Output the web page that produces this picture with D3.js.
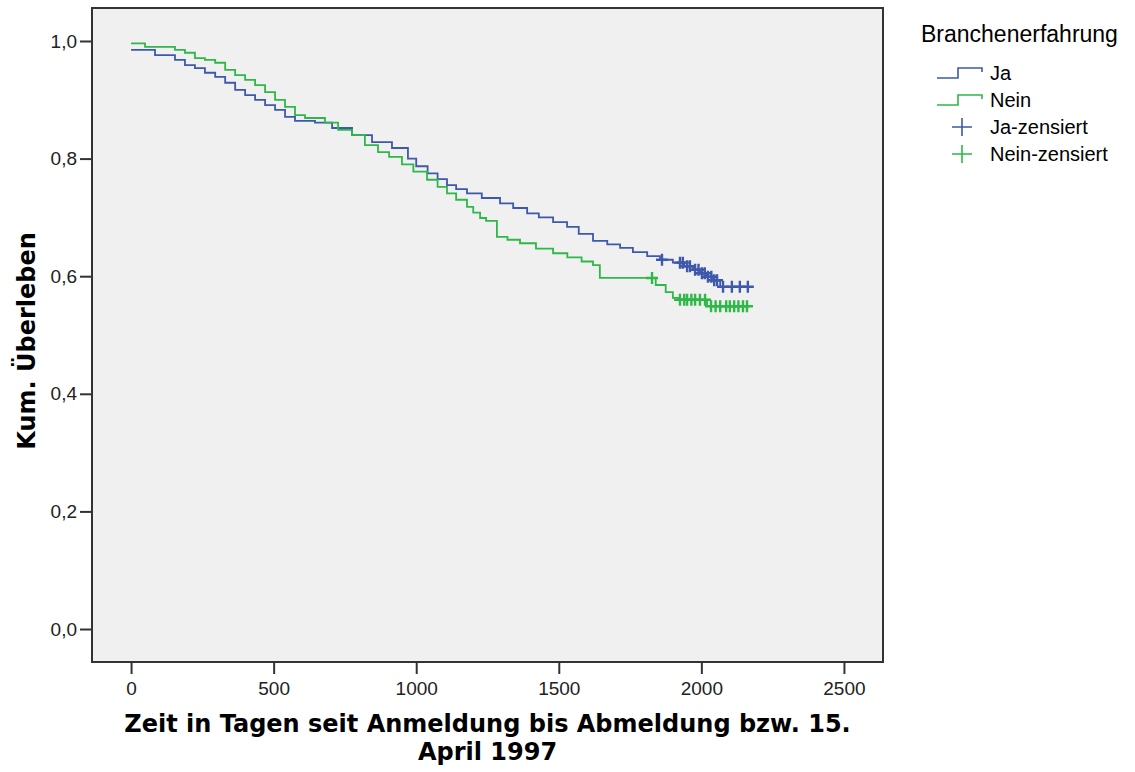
<!DOCTYPE html>
<html>
<head>
<meta charset="utf-8">
<script src="https://cdn.jsdelivr.net/npm/d3@7/dist/d3.min.js"></script>
<style>
  html, body { margin: 0; padding: 0; background: #ffffff; }
  svg { display: block; }
</style>
</head>
<body>
<svg id="chart" width="1135" height="772"></svg>
<script>
// ---------- DATA ----------
const xTicks = [0, 500, 1000, 1500, 2000, 2500];
const yTicks = [0, 0.2, 0.4, 0.6, 0.8, 1.0];

const seriesNames = ["Ja", "Nein"];
const legendTitle = "Branchenerfahrung";
const legendLabels = ["Ja", "Nein", "Ja-zensiert", "Nein-zensiert"];

// Kaplan-Meier steps [time, survival] for "Ja"
const jaSteps = [
  [0, 0.985], [84, 0.976], [154, 0.968], [189, 0.959], [224, 0.954], [259, 0.946],
  [295, 0.939], [330, 0.929], [365, 0.917], [400, 0.908], [435, 0.900], [470, 0.891],
  [505, 0.883], [540, 0.871], [575, 0.864], [645, 0.861], [705, 0.852], [775, 0.840],
  [845, 0.828], [915, 0.818], [971, 0.800], [1000, 0.787], [1040, 0.775], [1075, 0.765],
  [1108, 0.755], [1140, 0.748], [1178, 0.741], [1230, 0.733], [1294, 0.724], [1340, 0.716],
  [1389, 0.707], [1430, 0.700], [1480, 0.692], [1529, 0.684], [1570, 0.672], [1620, 0.660],
  [1670, 0.654], [1715, 0.648], [1760, 0.641], [1810, 0.634], [1855, 0.628], [1900, 0.623],
  [1940, 0.617], [1970, 0.611], [1995, 0.605], [2020, 0.599], [2041, 0.593], [2066, 0.582]
];
const jaEnd = 2165;
const jaCensored = [1862, 1925, 1935, 1950, 1960, 1978, 1990, 2002, 2012, 2023, 2035, 2045, 2055, 2076, 2107, 2135, 2163];

// Kaplan-Meier steps [time, survival] for "Nein"
const neinSteps = [
  [0, 0.996], [49, 0.990], [154, 0.985], [189, 0.980], [224, 0.971], [259, 0.968],
  [295, 0.963], [330, 0.951], [365, 0.942], [400, 0.934], [435, 0.925], [470, 0.913],
  [505, 0.900], [540, 0.888], [575, 0.874], [610, 0.869], [680, 0.861], [726, 0.849],
  [775, 0.840], [820, 0.823], [866, 0.811], [905, 0.803], [950, 0.790], [990, 0.778],
  [1038, 0.764], [1075, 0.752], [1108, 0.741], [1140, 0.730], [1178, 0.718], [1200, 0.708],
  [1224, 0.699], [1245, 0.694], [1283, 0.667], [1320, 0.662], [1364, 0.656], [1420, 0.647],
  [1480, 0.639], [1530, 0.632], [1580, 0.625], [1620, 0.619], [1644, 0.597], [1840, 0.585],
  [1875, 0.573], [1900, 0.563], [1920, 0.560], [2020, 0.549]
];
const neinEnd = 2165;
const neinCensored = [1827, 1925, 1940, 1950, 1965, 1978, 1995, 2013, 2034, 2050, 2066, 2087, 2100, 2115, 2130, 2146, 2160];

const colors = ["#3e58ac", "#2eb848"];

// ---------- LAYOUT ----------
const svg = d3.select("#chart");
const plot = { left: 92, right: 883, top: 8, bottom: 662 };

const x = d3.scaleLinear().domain([-137, 2637]).range([plot.left, plot.right]);
const y = d3.scaleLinear().domain([-0.0561, 1.0561]).range([plot.bottom, plot.top]);

// plot background
svg.append("rect")
  .attr("x", plot.left).attr("y", plot.top)
  .attr("width", plot.right - plot.left).attr("height", plot.bottom - plot.top)
  .attr("fill", "#f0f0f0");

svg.append("defs").append("clipPath").attr("id", "clip")
  .append("rect").attr("x", plot.left).attr("y", plot.top)
  .attr("width", plot.right - plot.left).attr("height", plot.bottom - plot.top);

const g = svg.append("g").attr("clip-path", "url(#clip)");

const line = d3.line().x(d => x(d[0])).y(d => y(d[1])).curve(d3.curveStepAfter);

function stepValue(steps, t) {
  let v = steps[0][1];
  for (const s of steps) { if (s[0] <= t) v = s[1]; }
  return v;
}

const allSeries = [
  { steps: jaSteps, end: jaEnd, cens: jaCensored, color: colors[0] },
  { steps: neinSteps, end: neinEnd, cens: neinCensored, color: colors[1] }
];

allSeries.forEach(s => {
  const pts = s.steps.concat([[s.end, s.steps[s.steps.length - 1][1]]]);
  g.append("path").datum(pts)
    .attr("d", line)
    .attr("fill", "none")
    .attr("stroke", s.color)
    .attr("stroke-width", 1.8);
});

const m = 6;
allSeries.forEach(s => {
  g.append("g").selectAll("path").data(s.cens).join("path")
    .attr("d", t => {
      const cx = x(t), cy = y(stepValue(s.steps, t));
      return `M${cx - m},${cy}H${cx + m}M${cx},${cy - m}V${cy + m}`;
    })
    .attr("stroke", s.color)
    .attr("stroke-width", 2.4)
    .attr("fill", "none");
});

// frame
svg.append("rect")
  .attr("x", plot.left).attr("y", plot.top)
  .attr("width", plot.right - plot.left).attr("height", plot.bottom - plot.top)
  .attr("fill", "none").attr("stroke", "#333").attr("stroke-width", 2);

// axes
const fmt = d => d3.format(".1f")(d).replace(".", ",");
const yAxis = svg.append("g").attr("transform", `translate(${plot.left},0)`)
  .call(d3.axisLeft(y).tickValues(yTicks).tickFormat(fmt).tickSize(12).tickPadding(3));
const xAxis = svg.append("g").attr("transform", `translate(0,${plot.bottom})`)
  .call(d3.axisBottom(x).tickValues(xTicks).tickFormat(d3.format("d")).tickSize(12).tickPadding(8));

[yAxis, xAxis].forEach(a => {
  a.select(".domain").remove();
  a.selectAll(".tick line").attr("stroke", "#333").attr("stroke-width", 2);
  a.selectAll(".tick text")
    .attr("fill", "#222")
    .style("font-family", "'Liberation Sans', Arial, sans-serif")
    .style("font-size", "19px");
});

// axis titles
const titleFont = "'DejaVu Sans', sans-serif";
svg.append("text")
  .attr("x", (plot.left + plot.right) / 2).attr("y", 732)
  .attr("text-anchor", "middle")
  .style("font-family", titleFont).style("font-weight", "bold").style("font-size", "24px")
  .text("Zeit in Tagen seit Anmeldung bis Abmeldung bzw. 15.");
svg.append("text")
  .attr("x", (plot.left + plot.right) / 2).attr("y", 760)
  .attr("text-anchor", "middle")
  .style("font-family", titleFont).style("font-weight", "bold").style("font-size", "24px")
  .text("April 1997");
svg.append("text")
  .attr("transform", `translate(35,${(plot.top + plot.bottom) / 2 + 6}) rotate(-90)`)
  .attr("text-anchor", "middle")
  .style("font-family", titleFont).style("font-weight", "bold").style("font-size", "24px")
  .text("Kum. Überleben");

// legend
const lg = svg.append("g");
lg.append("text").attr("x", 921).attr("y", 42)
  .style("font-family", "'Liberation Sans', Arial, sans-serif").style("font-size", "23px")
  .text(legendTitle);

const rowY = [75, 102, 129, 156];
[0, 1].forEach(i => {
  const yy = rowY[i];
  lg.append("path")
    .attr("d", `M937,${yy + 3}H958V${yy - 7}H982V${yy - 3}`)
    .attr("fill", "none").attr("stroke", colors[i]).attr("stroke-width", 1.6);
});
[2, 3].forEach(i => {
  const yy = rowY[i];
  const c = colors[i - 2];
  lg.append("path")
    .attr("d", `M952,${yy - 2}H972M962,${yy - 11}V${yy + 7}`)
    .attr("fill", "none").attr("stroke", c).attr("stroke-width", 1.6);
});
legendLabels.forEach((lab, i) => {
  lg.append("text").attr("x", 990).attr("y", rowY[i] + 5)
    .style("font-family", "'Liberation Sans', Arial, sans-serif").style("font-size", "20px")
    .text(lab);
});
</script>
</body>
</html>
